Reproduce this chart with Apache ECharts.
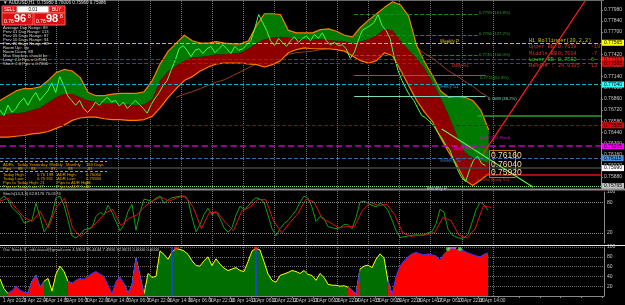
<!DOCTYPE html>
<html><head><meta charset="utf-8">
<script src="https://cdn.jsdelivr.net/npm/echarts@6/dist/echarts.min.js"></script>
<style>html,body{margin:0;padding:0;background:#000;overflow:hidden}#chart{width:625px;height:305px}</style>
</head><body><div id="chart"></div>
<script>
// ---------------- data ----------------
const timeLabels = ["1 Apr 2020","3 Apr 22:00","4 Apr 14:00","5 Apr 06:00","5 Apr 22:00","6 Apr 14:00","7 Apr 06:00","7 Apr 22:00","8 Apr 14:00","9 Apr 06:00","9 Apr 22:00","10 Apr 14:00","11 Apr 06:00","11 Apr 22:00","12 Apr 14:00","13 Apr 06:00","13 Apr 22:00","14 Apr 14:00","15 Apr 06:00","15 Apr 22:00","16 Apr 14:00","17 Apr 06:00","17 Apr 22:00","18 Apr 14:00"];

const priceClose = [0.7672,0.7665,0.7678,0.7669,0.7674,0.7682,0.7687,0.7678,0.7687,0.7694,
0.7684,0.7690,0.7696,0.7706,0.7694,0.7714,0.7703,0.7690,0.7684,0.7678,
0.7684,0.7674,0.7669,0.7674,0.7682,0.7678,0.7684,0.7688,0.7682,0.7684,
0.7677,0.7682,0.7674,0.7679,0.7684,0.7679,0.7674,0.7668,0.7679,0.7687,
0.7694,0.7703,0.7709,0.7722,0.7734,0.7749,0.7753,0.7747,0.7739,0.7747,
0.7749,0.7743,0.7749,0.7752,0.7744,0.7749,0.7754,0.7749,0.7743,0.7752,
0.7747,0.7749,0.7754,0.7759,0.7774,0.7792,0.7782,0.7772,0.7759,0.7753,
0.7762,0.7757,0.7752,0.7759,0.7764,0.7757,0.7762,0.7765,0.7759,0.7767,
0.7762,0.7769,0.7759,0.7754,0.7757,0.7753,0.7754,0.7749,0.7737,0.7744,
0.7759,0.7772,0.7775,0.7778,0.7782,0.7792,0.7778,0.7772,0.7762,0.7740,
0.7722,0.7709,0.7699,0.7690,0.7684,0.7674,0.7665,0.7662,0.7657,0.7652,
0.7644,0.7637,0.7628,0.7622,0.7609,0.7597,0.7587,0.7582,0.7597,0.7609,
0.7614,0.7605,0.7602];

const bbUpper = [0.7684,0.7690,0.7696,0.7699,0.7699,0.7701,0.7709,0.7719,0.7723,0.7721,
0.7713,0.7694,0.7690,0.7690,0.7692,0.7693,0.7693,0.7693,0.7695,0.7709,
0.7730,0.7746,0.7756,0.7766,0.7759,0.7756,0.7756,0.7758,0.7756,0.7755,
0.7755,0.7759,0.7778,0.7793,0.7793,0.7792,0.7772,0.7769,0.7769,0.7769,
0.7773,0.7774,0.7771,0.7766,0.7764,0.7776,0.7785,0.7793,0.7801,0.7808,
0.7804,0.7790,0.7753,0.7732,0.7715,0.7696,0.7688,0.7689,0.7688,0.7684,
0.7672,0.7647];
const bbMiddle = [0.7665,0.7667,0.7668,0.7669,0.7672,0.7675,0.7681,0.7688,0.7692,0.7692,
0.7688,0.7684,0.7682,0.7680,0.7680,0.7680,0.7679,0.7678,0.7679,0.7686,
0.7709,0.7721,0.7728,0.7734,0.7738,0.7739,0.7740,0.7742,0.7742,0.7743,
0.7744,0.7749,0.7756,0.7761,0.7763,0.7764,0.7763,0.7761,0.7761,0.7761,
0.7761,0.7760,0.7759,0.7758,0.7756,0.7758,0.7761,0.7766,0.7774,0.7772,
0.7759,0.7747,0.7737,0.7724,0.7707,0.7687,0.7665,0.7640,0.7619,0.7612,
0.7609,0.7605];
const bbLower = [0.7638,0.7638,0.7639,0.7640,0.7642,0.7643,0.7645,0.7649,0.7653,0.7659,
0.7662,0.7663,0.7663,0.7661,0.7660,0.7660,0.7659,0.7659,0.7660,0.7664,
0.7675,0.7688,0.7699,0.7709,0.7714,0.7721,0.7726,0.7730,0.7731,0.7731,
0.7731,0.7730,0.7729,0.7726,0.7729,0.7734,0.7744,0.7748,0.7750,0.7749,
0.7749,0.7749,0.7748,0.7746,0.7740,0.7734,0.7731,0.7734,0.7744,0.7740,
0.7722,0.7703,0.7684,0.7669,0.7657,0.7637,0.7619,0.7603,0.7584,0.7577,
0.7584,0.7592];

const maStart = 22;
const maValues = [0.7688,0.7692,0.7695,0.7699,0.7703,0.7707,0.7710,0.7715,0.7720,0.7725,
0.7730,0.7734,0.7737,0.7739,0.7742,0.7744,0.7745,0.7746,0.7748,0.7749,
0.7750,0.7751,0.7753,0.7754,0.7754,0.7755,0.7755,0.7755,0.7755,0.7755,
0.7750,0.7743,0.7737,0.7729,0.7721,0.7715,0.7708,0.7702,0.7694,0.7688];

const stochK = [85,92,85,70,62,55,39,42,45,78, 52,22,33,55,89,92,74,45,14,10,
16,26,28,30,52,60,55,74,60,42, 24,36,62,76,25,60,86,84,81,88,
92,78,84,89,90,92,92,84,50,22, 36,56,68,55,62,48,30,21,30,55,
72,66,72,82,89,86,80,55,28,14, 28,38,44,54,64,80,92,88,70,42,
52,48,32,30,28,30,36,36,28,50, 80,82,78,74,71,78,74,64,45,25,
11,12,14,15,16,15,16,20,22,38, 66,60,27,16,12,9,10,17,40,65,
80,75,64];
const stochD = [82,88,68,50,42,62,30,70,88,30, 12,26,40,58,66,34,48,55,72,83,
90,82,89,92,70,28,60,60,40,24, 62,70,85,85,42,20,40,58,86,80,
48,40,30,32,32,64,80,73,76,56, 20,13,15,16,21,50,44,15,10,28,
72,70];

const oscValues = [35,15,5,10,21,12,8,6,30,42, 17,30,36,10,45,61,50,30,26,32,
36,34,40,46,50,45,40,22,5,30, 39,25,6,21,77,40,4,46,38,40,
92,85,75,90,97,95,92,85,72,62, 61,72,80,62,76,65,57,52,55,58,
52,50,70,92,97,94,70,45,32,28, 42,45,48,52,50,46,52,44,42,32,
46,38,24,22,22,20,21,18,12,3, 55,61,63,58,75,86,78,30,3,40,
61,72,80,86,89,86,84,86,84,82, 74,86,94,96,95,94,92,88,85,82,
80,85,88];
const oscState = "GGGRRRRRGG"+"RGGGGGGGRR"+"RRRRRRRRRR"+"RRGGRRGGGG"+"GGGGGGGGGG"+"GGGGGGGGGG"+"GGGGGGGGGG"+"GGGGGGGGGG"+"GGGGGGGGRR"+"GGGGGGGGRR"+"RRRRRRRRRR"+"RRRRRRRRRR"+"RRR";
const oscSignalBars = [44, 64, 112, 115];
const oscSignalValues = [97, 97, 96, 96];
const oscMarkerBars = [43, 64];
const oscZoneBars = [112, 114];

const pivotLevels = [0.77565, 0.77353, 0.77303, 0.77040, 0.76528, 0.76265, 0.76115, 0.75990, 0.75765];
const fibLevels = [0.77928, 0.77665, 0.77403];
const channelLevels = [0.77153, 0.76890];
const rightLevels = [0.76653, 0.75903];
const trendRed = [[121, 0.7614], [147, 0.7809]];
const trendGreen = [[111, 0.7648], [134, 0.7575]];
const priceTickMin = 0.7574, priceTickMax = 0.7809, priceTickStep = 0.0014;
const lastPrices = ["0.76160", "0.76040", "0.75920"];

// ---------------- styles ----------------
const FONT = '"Liberation Sans","DejaVu Sans",sans-serif';
const MONO = '"Liberation Mono","DejaVu Sans Mono",monospace';
const pivotStyles = [
  {c:'#c8c800', t:'dashed', w:1, bg:'#ffff00', fg:'#000'},
  {c:'#b01818', t:'dashed', w:1, bg:'#ff1a1a', fg:'#000'},
  {c:'#b01818', t:'dashed', w:1, bg:'#e00000', fg:'#000'},
  {c:'#12b0c0', t:'dashed', w:1, bg:'#33ffff', fg:'#000'},
  {c:'#8a0c0c', t:'dashed', w:1, bg:'#e00000', fg:'#000'},
  {c:'#c000c0', t:'dashed', w:1.6, bg:'#ff00ff', fg:'#000'},
  {c:'#3a6ea5', t:'dashed', w:1, bg:'#4a90d0', fg:'#000'},
  {c:'#444444', t:'solid', w:1.5, bg:'#ffffff', fg:'#000'},
  {c:'#90d890', t:'dotted', w:1, bg:'#c0c0c0', fg:'#000'}
];

const NBARS = 152, NBAND = 76;
const barCats = Array.from({length: NBARS}, (_, i) => String(i));
const bandCats = Array.from({length: NBAND}, (_, i) => String(i));
const bandRed = bbMiddle.map((m, i) => +(m - bbLower[i]).toFixed(5));
const bandGreen = bbUpper.map((u, i) => +(u - bbMiddle[i]).toFixed(5));
const maData = bandCats.map((_, i) => (i >= maStart && i - maStart < maValues.length) ? maValues[i - maStart] : null);
const oscPart = s => oscValues.map((v, i) => (oscState[i] === s || oscState[i-1] === s || oscState[i+1] === s) ? v : null);
const labelCats = timeLabels.concat(Array(30 - timeLabels.length).fill(''));

const markLines = [];
pivotLevels.forEach((p, i) => {
  const s = pivotStyles[i];
  markLines.push({yAxis: p, lineStyle: {color: s.c, type: s.t, width: s.w},
    label: {show: true, position: 'end', distance: 1, formatter: p.toFixed(5), backgroundColor: s.bg, color: s.fg,
      fontSize: 5, fontFamily: FONT, padding: [1, 2, 0, 2]}});
});
fibLevels.forEach(p => markLines.push([{coord: ['89', p], lineStyle: {color: '#1e8a1e', type: 'dashed', width: 1}}, {coord: ['120', p]}]));
markLines.push([{coord: ['89', channelLevels[0]], lineStyle: {color: '#14a014', type: 'solid', width: 1}}, {coord: ['122', channelLevels[0]]}]);
markLines.push([{coord: ['89', channelLevels[1]], lineStyle: {color: '#7fd8c0', type: 'solid', width: 1}}, {coord: ['122', channelLevels[1]]}]);
markLines.push([{coord: ['120', rightLevels[0]], lineStyle: {color: '#2aa02a', type: 'solid', width: 1.5}}, {coord: ['151', rightLevels[0]]}]);
markLines.push([{coord: ['122', rightLevels[1]], lineStyle: {color: '#e01010', type: 'solid', width: 1.5}}, {coord: ['151', rightLevels[1]]}]);
markLines.push([{coord: [String(trendRed[0][0]), trendRed[0][1]], lineStyle: {color: '#ff1a1a', type: 'solid', width: 1.3}}, {coord: [String(trendRed[1][0]), trendRed[1][1]]}]);
markLines.push([{coord: [String(trendGreen[0][0]), trendGreen[0][1]], lineStyle: {color: '#66ee44', type: 'solid', width: 1.2}}, {coord: [String(trendGreen[1][0]), trendGreen[1][1]]}]);

const hidCat = (grid, data) => ({type: 'category', gridIndex: grid, data, boundaryGap: false, show: false});

// ---------------- graphics ----------------
const G = [];
const T = (x, y, text, fill, size, extra) => G.push({type: 'text', x, y, silent: true, z: 100,
  style: Object.assign({text, fill, fontSize: size, fontFamily: FONT, textVerticalAlign: 'top', verticalAlign: 'top'}, extra || {})});
const R = (x, y, w, h, fill, stroke, extra) => G.push({type: 'rect', silent: true, z: 99, shape: {x, y, width: w, height: h},
  style: Object.assign({fill: fill, stroke: stroke || null, lineWidth: 1}, extra || {})});
const L = (x1, y1, x2, y2, stroke, w, dash) => G.push({type: 'line', silent: true, z: 98, shape: {x1, y1, x2, y2},
  style: {stroke, lineWidth: w, lineDash: dash || null}});

// panel separators
L(0, 189.5, 625, 189.5, '#8a8a8a', 2);
L(0, 245.5, 625, 245.5, '#e6e6e6', 1);
L(0, 296.5, 604, 296.5, '#8a8a8a', 1);
L(0, 0.5, 604, 0.5, '#6a6a6a', 1);

// title + one-click panel
T(3, 0.5, '\u25BC AUDUSD,H1  0.75980 0.76006 0.75960 0.75986', '#e0e0e0', 4.5);
R(2, 6, 15, 7, '#e01515', '#ff6060');
T(4, 7.3, 'SELL', '#ffffff', 4.5);
R(17, 6, 32, 7, '#ffffff', '#999');
T(33, 7.3, '0.01', '#000000', 4.5, {textAlign: 'center', align: 'center'});
R(49, 6, 16, 7, '#e01515', '#ff6060');
T(52, 7.3, 'BUY', '#ffffff', 4.5);
R(2, 13, 31, 12, '#d81010', '#ff6060');
R(34, 13, 31, 12, '#d81010', '#ff6060');
T(4, 19, '0.76', '#ffffff', 5);
T(14, 13.5, '96', '#ffffff', 11, {fontWeight: 'bold'});
T(28, 14, '8', '#ffffff', 5);
T(36, 19, '0.76', '#ffffff', 5);
T(46, 13.5, '98', '#ffffff', 11, {fontWeight: 'bold'});
T(60, 14, '8', '#ffffff', 5);

const info = ['Average Day Range: 89', 'Prev 01 Day Range: 113', 'Prev 05 Days Range: 87', 'Prev 10 Days Range: 94',
  'Prev 20 Days Range: 88', 'Room Up:  0p', 'Room Down: 88', 'Max Stoploss should be :', 'Long: 2.0 Pips = 0.7591', 'Short: 2.0 Pips = 0.7606'];
info.forEach((s, i) => T(3, 25.5 + i * 4, s, '#d8d8d8', 4.2));

// ADR table
L(0, 161.5, 107, 161.5, '#d89a00', 1, [3, 2]);
const tc = '#e8a400';
[['ADRs', 3], ['Today', 17], ['Yesterday', 29], ['Weekly', 49], ['Monthly', 66], ['180 Days', 86]].forEach(a => T(a[1], 163, a[0], tc, 4.2));
[['Pips', 3], ['88', 18], ['83', 31], ['87', 51], ['93', 68], ['81', 88]].forEach(a => T(a[1], 167, a[0], tc, 4.2));
L(0, 171.5, 107, 171.5, '#d89a00', 1, [3, 2]);
[['Today High:', '0.76 198', 'ADR High:', '0.76060'], ['Today Low:', '0.75 911', 'ADR Low:', '0.75584'],
 ['Pips to Today High: 21', '', 'Pips to ADR High:', '36'], ['Pips to Today Low: 27', '', 'Pips to ADR Low:', '59']].forEach((r, i) => {
  T(3, 173 + i * 4, r[0], tc, 4.2); T(37, 173 + i * 4, r[1], tc, 4.2); T(57, 173 + i * 4, r[2], tc, 4.2); T(86, 173 + i * 4, r[3], tc, 4.2);
});

// Bollinger info block
T(529, 38, 'H1 Bollinger(20,2,2)', '#c8c800', 5.2, {fontFamily: MONO});
[['Upper BB :', '0.7638', '-10', '#d03030'], ['Middle BB :', '0.7604', '-7', '#d03030'], ['Lower BB :', '0.7592', '6', '#30c030'], ['Range# :', '24.0305', '13', '#d03030']]
  .forEach((r, i) => { T(529, 44.5 + i * 6.3, r[0], r[3], 5.2, {fontFamily: MONO}); T(558, 44.5 + i * 6.3, r[1], r[3], 5.2, {fontFamily: MONO}); T(591, 44.5 + i * 6.3, r[2], r[3], 5.2, {fontFamily: MONO}); });

// level captions
T(440, 39.5, 'Weekly P', '#c8c800', 4.5);
T(452, 63.5, 'Daily R1', '#d03030', 4.5);
T(437, 84.5, 'Weekly S1', '#3a8ad0', 4.5);
T(454, 146.5, 'Daily Pivot', '#e000e0', 4.5);
T(440, 158.5, 'Weekly S2', '#3a6ea5', 4.5);
T(427, 186.5, 'Monthly P', '#d0d0d0', 4.5);
T(479, 11, '0.7793 (161.8%)', '#2ea02e', 4.2);
T(479, 32, '0.7766 (127.2%)', '#2ea02e', 4.2);
T(479, 53, '0.7740 (100.0%)', '#2ea02e', 4.2);
T(480, 76, '0.7715 (61.8%)', '#2ea02e', 4.2);
T(488, 97, '0.7689 (38.2%)', '#7fd8c0', 4.2);
T(480, 136, '0.7627 (D.Pivot)', '#e000e0', 4.2);
T(477, 178, '0.7586 (Daily S1)', '#d03030', 4.2);

// last price box
R(489.5, 150.5, 26, 27, null, '#c07020');
lastPrices.forEach((p, i) => T(491, 151 + i * 8.8, p, '#ffd8a0', 8.5));

T(3, 191.5, 'Stoch(14,3,3) 62.8176 70.0176', '#d0d0d0', 4.2);
T(3, 247.5, 'Osc Stoch II - niki.visual@gmail.com 4.5300 95.4444 7.4900 92.8611 0.0000 0.0000', '#d0d0d0', 4.2);

// ---------------- option ----------------
const axisLab = {fontSize: 5, color: '#c8c8c8', fontFamily: FONT, margin: 3};
const option = {
  backgroundColor: '#000000',
  animation: false,
  grid: [
    {left: 0, top: 1, width: 604, height: 187},
    {left: 0, top: 192, width: 604, height: 51},
    {left: 0, top: 247, width: 604, height: 49},
    {left: 2, top: 247, width: 600, height: 49},
    {left: 25, top: 1, width: 468, height: 295}
  ],
  xAxis: [
    hidCat(0, barCats), hidCat(0, bandCats), hidCat(1, barCats), hidCat(1, bandCats), hidCat(2, barCats),
    {type: 'category', gridIndex: 3, data: labelCats, boundaryGap: false,
      axisLine: {show: false}, axisTick: {show: true, length: 2, interval: 0, lineStyle: {color: '#888'}},
      axisLabel: {interval: 0, fontSize: 4.8, color: '#c8c8c8', fontFamily: FONT, align: 'left', margin: 2}},
    {type: 'value', gridIndex: 4, min: 0, max: 15, interval: 1, axisLabel: {show: false}, axisLine: {show: false}, axisTick: {show: false},
      splitLine: {show: true, lineStyle: {color: '#707070', type: 'dotted', width: 1}}}
  ],
  yAxis: [
    {type: 'value', gridIndex: 0, position: 'right', min: priceTickMin, max: priceTickMax, interval: priceTickStep,
      axisLine: {show: true, lineStyle: {color: '#8a8a8a'}}, axisTick: {show: true, length: 2, lineStyle: {color: '#8a8a8a'}},
      splitLine: {show: false}, axisLabel: Object.assign({formatter: v => v.toFixed(5), showMaxLabel: false}, axisLab)},
    {type: 'value', gridIndex: 1, position: 'right', min: 0, max: 100, interval: 20,
      axisLine: {show: true, lineStyle: {color: '#8a8a8a'}}, axisTick: {show: false}, splitLine: {show: false},
      axisLabel: Object.assign({formatter: v => (v === 100 || v === 80 || v === 20) ? String(v) : ''}, axisLab)},
    {type: 'value', gridIndex: 2, position: 'right', min: 0, max: 100, interval: 20,
      axisLine: {show: true, lineStyle: {color: '#8a8a8a'}}, axisTick: {show: false},
      splitLine: {show: true, lineStyle: {color: '#6a6a6a', type: 'dotted'}},
      axisLabel: Object.assign({formatter: v => v === 0 ? '' : String(v)}, axisLab)},
    {type: 'value', gridIndex: 3, show: false},
    {type: 'value', gridIndex: 4, show: false, splitLine: {show: false}}
  ],
  series: [
    {type: 'line', xAxisIndex: 1, yAxisIndex: 0, data: maData, symbol: 'none', z: 1, silent: true,
      lineStyle: {color: '#9a3c18', width: 1}},
    {type: 'line', xAxisIndex: 1, yAxisIndex: 0, data: bbLower, stack: 'bb', symbol: 'none', z: 2, silent: true,
      lineStyle: {opacity: 0}},
    {type: 'line', xAxisIndex: 1, yAxisIndex: 0, data: bandRed, stack: 'bb', symbol: 'none', z: 2, silent: true,
      lineStyle: {opacity: 0}, areaStyle: {color: '#8e0000', opacity: 1}},
    {type: 'line', xAxisIndex: 1, yAxisIndex: 0, data: bandGreen, stack: 'bb', symbol: 'none', z: 2, silent: true,
      lineStyle: {opacity: 0}, areaStyle: {color: '#007a00', opacity: 1}},
    {type: 'line', xAxisIndex: 1, yAxisIndex: 0, data: bbUpper, symbol: 'none', z: 3, silent: true,
      lineStyle: {color: '#ff7a00', width: 1.2}},
    {type: 'line', xAxisIndex: 1, yAxisIndex: 0, data: bbLower, symbol: 'none', z: 3, silent: true,
      lineStyle: {color: '#ff7a00', width: 1.2}},
    {type: 'line', xAxisIndex: 0, yAxisIndex: 0, data: priceClose, symbol: 'none', z: 4, silent: true,
      lineStyle: {color: '#44ff44', width: 1},
      markLine: {silent: true, precision: 6, symbol: ['none', 'none'], label: {show: false}, data: markLines}},
    {type: 'line', xAxisIndex: 2, yAxisIndex: 1, data: stochK, symbol: 'none', silent: true,
      lineStyle: {color: '#10a010', width: 1},
      markLine: {silent: true, symbol: ['none', 'none'], label: {show: false},
        lineStyle: {color: '#8a8a8a', type: 'dotted', width: 1}, data: [{yAxis: 80}, {yAxis: 20}]}},
    {type: 'line', xAxisIndex: 3, yAxisIndex: 1, data: stochD, symbol: 'none', silent: true,
      lineStyle: {color: '#e01010', width: 1}},
    {type: 'line', xAxisIndex: 4, yAxisIndex: 2, data: oscPart('G'), symbol: 'none', silent: true, z: 3,
      lineStyle: {color: '#ffff00', width: 1}, areaStyle: {color: '#006e00', opacity: 1},
      markLine: {silent: true, symbol: ['none', 'none'], label: {show: false},
        lineStyle: {color: '#1e3cff', type: 'solid', width: 1.5}, data: oscMarkerBars.map(b => ({xAxis: String(b)}))}},
    {type: 'line', xAxisIndex: 4, yAxisIndex: 2, data: oscPart('R'), symbol: 'none', silent: true, z: 4,
      lineStyle: {color: '#2a3cff', width: 1}, areaStyle: {color: '#ff0000', opacity: 1},
      markArea: {silent: true, itemStyle: {color: '#ff4fb0', opacity: 0.9},
        data: [[{xAxis: String(oscZoneBars[0])}, {xAxis: String(oscZoneBars[1])}]]}},
    {type: 'scatter', xAxisIndex: 4, yAxisIndex: 2, symbolSize: 4, silent: true, z: 6,
      data: oscSignalBars.map((b, i) => [String(b), oscSignalValues[i]]),
      itemStyle: {color: p => p.dataIndex < 2 ? '#ff2020' : '#40ff40'}}
  ],
  graphic: G
};
echarts.init(document.getElementById('chart'), null, {renderer: 'canvas'}).setOption(option);
</script>
</body></html>
